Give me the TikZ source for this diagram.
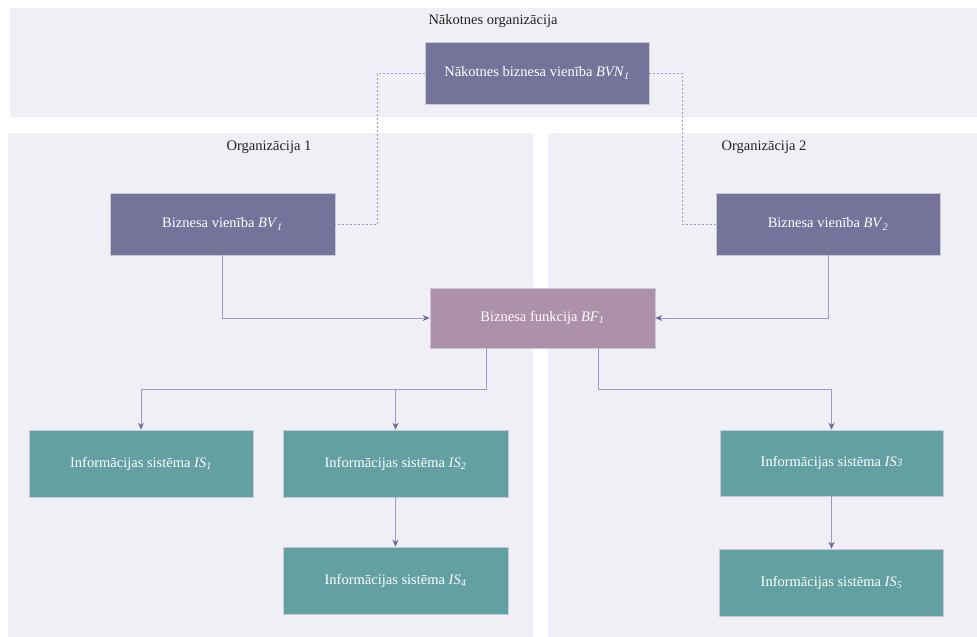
\documentclass[tikz,border=0pt]{standalone}
\usepackage{fontspec}
\setmainfont{Liberation Serif}
\usetikzlibrary{arrows.meta}
\definecolor{panelbg}{HTML}{F0EFF5}
\definecolor{unitcol}{HTML}{76739B}
\definecolor{funccol}{HTML}{AD90A9}
\definecolor{syscol}{HTML}{62A0A2}
\definecolor{linkcol}{HTML}{9D98C5}
\definecolor{tipcol}{HTML}{6F6A9C}
\definecolor{edgecol}{HTML}{C9C7DC}
\definecolor{labelcol}{HTML}{222222}
\newcommand{\sub}[2]{\textit{#1}\textsubscript{\textit{#2}}}
\tikzset{
  panel/.style={fill=panelbg, draw=none},
  box/.style={draw=edgecol, line width=0.6pt, text=white, inner sep=0pt,
    font=\fontsize{14.5}{17}\selectfont},
  unitbox/.style={box, fill=unitcol},
  funcbox/.style={box, fill=funccol},
  sysbox/.style={box, fill=syscol},
  title/.style={text=labelcol, font=\fontsize{14.5}{17}\selectfont},
  link/.style={draw=linkcol, line width=0.9pt,
    -{Stealth[length=7pt, width=6pt, color=tipcol]}},
  dotlink/.style={draw=linkcol, line width=0.8pt, dash pattern=on 2pt off 2pt}
}
\begin{document}
\begin{tikzpicture}[x=1pt, y=-1pt]
  \useasboundingbox (0,0) rectangle (977,637);
  \fill[white] (0,0) rectangle (977,637);

  % organisation panels
  \path[panel] (10,8) rectangle (977,117);
  \path[panel] (8,133) rectangle (533,637);
  \path[panel] (548,133) rectangle (977,637);

  \node[title] (tfut) at (493,21) {Nākotnes organizācija};
  \node[title] (torg1) at (269,147) {Organizācija 1};
  \node[title] (torg2) at (764,147) {Organizācija 2};

  % business units and function
  \node[unitbox, minimum width=224pt, minimum height=62pt] (bvn) at (537,73)
    {Nākotnes biznesa vienība \sub{BVN}{1}};
  \node[unitbox, minimum width=225pt, minimum height=62pt] (bv1) at (222.5,224)
    {Biznesa vienība \sub{BV}{1}};
  \node[unitbox, minimum width=224pt, minimum height=62pt] (bv2) at (828,224)
    {Biznesa vienība \sub{BV}{2}};
  \node[funcbox, minimum width=225pt, minimum height=60pt] (bf1) at (542.5,318)
    {Biznesa funkcija \sub{BF}{1}};

  % information systems
  \node[sysbox, minimum width=224pt, minimum height=67pt] (is1) at (141,463.5)
    {Informācijas sistēma \sub{IS}{1}};
  \node[sysbox, minimum width=225pt, minimum height=67pt] (is2) at (395.5,463.5)
    {Informācijas sistēma \sub{IS}{2}};
  \node[sysbox, minimum width=225pt, minimum height=67pt] (is4) at (395.5,580.5)
    {Informācijas sistēma \sub{IS}{4}};
  \node[sysbox, minimum width=223pt, minimum height=66pt] (is3) at (831.5,463)
    {Informācijas sistēma \textit{IS}{\fontsize{11}{13}\selectfont\textit{3}}};
  \node[sysbox, minimum width=224pt, minimum height=67pt] (is5) at (831.5,582.5)
    {Informācijas sistēma \sub{IS}{5}};

  % dotted links from the future unit
  \draw[dotlink] (bvn.west) -- ++(-47,0) |- (bv1.east);
  \draw[dotlink] (bvn.east) -- ++(33,0) |- (bv2.west);

  % units to function
  \draw[link] (bv1.south) |- (bf1.west);
  \draw[link] (bv2.south) |- (bf1.east);

  % function to systems
  \coordinate (jl) at (486,389);
  \coordinate (jr) at (598,389);
  \draw[link] (bf1.south -| jl) -- (jl) -| (is1.north);
  \draw[link] (jl) -| (is2.north);
  \draw[link] (bf1.south -| jr) -- (jr) -| (is3.north);

  % system chains
  \draw[link] (is2.south) -- (is4.north);
  \draw[link] (is3.south) -- (is5.north);
\end{tikzpicture}
\end{document}
